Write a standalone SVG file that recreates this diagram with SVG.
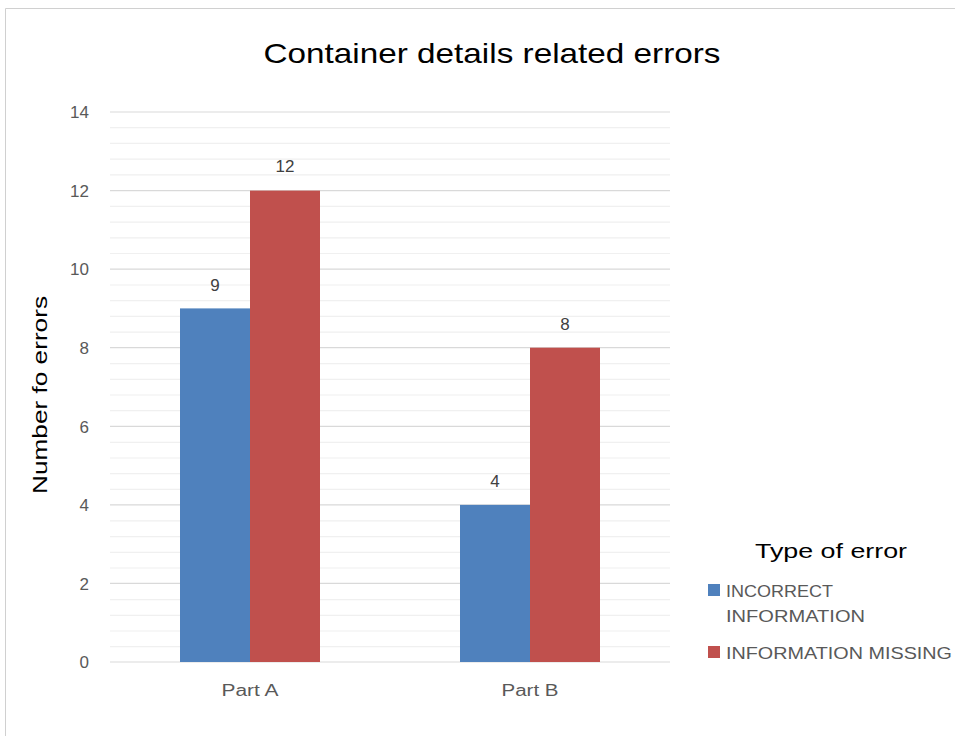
<svg xmlns="http://www.w3.org/2000/svg" width="955" height="736" viewBox="0 0 955 736">
<style>
text{font-family:"Liberation Sans",Arial,sans-serif;fill:#595959}
.tick{font-size:17px;text-anchor:end}
.lbl{font-size:17px;text-anchor:middle;fill:#404040}
.cat{font-size:16px;text-anchor:middle}
.leg{font-size:17px}
.major{stroke:#d9d9d9;stroke-width:1.2}
.minor{stroke:#f0f0f0;stroke-width:1.2}
.blue{fill:#4f81bd}
.red{fill:#c0504d}
</style>
<rect x="0" y="0" width="955" height="736" fill="#fff"/>
<path d="M5.5 736V8.5H955" fill="none" stroke="#d0d0d0" stroke-width="1"/>
<text x="492" y="63" font-size="28" text-anchor="middle" style="fill:#000" textLength="457" lengthAdjust="spacingAndGlyphs">Container details related errors</text>
<g id="grid">
<g class="minor">
<path d="M110 127.7H670M110 143.4H670M110 159.1H670M110 174.8H670"/>
<path d="M110 206.4H670M110 222.1H670M110 237.8H670M110 253.5H670"/>
<path d="M110 285.0H670M110 300.7H670M110 316.4H670M110 332.1H670"/>
<path d="M110 363.6H670M110 379.3H670M110 395.0H670M110 410.7H670"/>
<path d="M110 442.3H670M110 458.0H670M110 473.7H670M110 489.4H670"/>
<path d="M110 520.9H670M110 536.6H670M110 552.3H670M110 568.0H670"/>
<path d="M110 599.6H670M110 615.3H670M110 631.0H670M110 646.7H670"/>
</g>
<g class="major">
<path d="M110 112H670M110 190.6H670M110 269.1H670M110 347.7H670M110 426.3H670M110 504.9H670M110 583.4H670M110 662H670"/>
</g>
</g>
<g id="yaxis">
<text class="tick" x="89" y="118">14</text>
<text class="tick" x="89" y="197">12</text>
<text class="tick" x="89" y="275">10</text>
<text class="tick" x="89" y="354">8</text>
<text class="tick" x="89" y="433">6</text>
<text class="tick" x="89" y="511">4</text>
<text class="tick" x="89" y="590">2</text>
<text class="tick" x="89" y="668">0</text>
<text x="0" y="0" font-size="20" text-anchor="middle" style="fill:#000" transform="translate(47 395) rotate(-90)" textLength="198" lengthAdjust="spacingAndGlyphs">Number fo errors</text>
</g>
<g id="partA">
<rect class="blue" x="180" y="308.4" width="70" height="353.6"/>
<rect class="red" x="250" y="190.6" width="70" height="471.4"/>
<text class="lbl" x="215" y="291">9</text>
<text class="lbl" x="285" y="172">12</text>
<text class="cat" x="250" y="696" textLength="57" lengthAdjust="spacingAndGlyphs">Part A</text>
</g>
<g id="partB">
<rect class="blue" x="460" y="504.9" width="70" height="157.1"/>
<rect class="red" x="530" y="347.7" width="70" height="314.3"/>
<text class="lbl" x="495" y="487">4</text>
<text class="lbl" x="565" y="330">8</text>
<text class="cat" x="530" y="696" textLength="57" lengthAdjust="spacingAndGlyphs">Part B</text>
</g>
<g id="legend">
<text x="831" y="558" font-size="20" text-anchor="middle" style="fill:#000" textLength="152" lengthAdjust="spacingAndGlyphs">Type of error</text>
<rect class="blue" x="708" y="584" width="12" height="12"/>
<text class="leg" x="726" y="597" textLength="107" lengthAdjust="spacingAndGlyphs">INCORRECT</text>
<text class="leg" x="726" y="622" textLength="139" lengthAdjust="spacingAndGlyphs">INFORMATION</text>
<rect class="red" x="708" y="646" width="12" height="12"/>
<text class="leg" x="726" y="659" textLength="226" lengthAdjust="spacingAndGlyphs">INFORMATION MISSING</text>
</g>
</svg>
